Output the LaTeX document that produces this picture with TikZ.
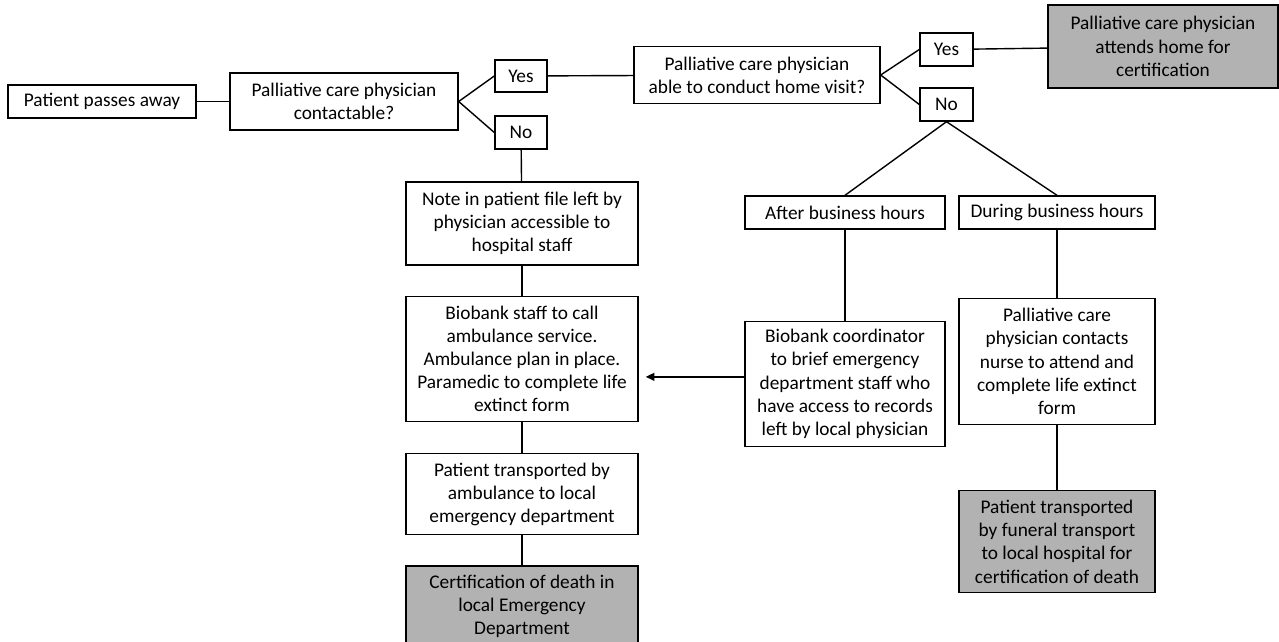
\documentclass[tikz,border=0pt]{standalone}
\usepackage{fontspec}
\setmainfont{Carlito}
\usetikzlibrary{positioning,arrows.meta}
\begin{document}
\begin{tikzpicture}[x=0.02cm,y=-0.02cm,
  box/.style={draw,line width=0.8pt,align=center,inner sep=1pt,
    font=\fontsize{11}{13.2}\selectfont},
  shaded/.style={box,fill=black!30}]
  \useasboundingbox (0,0) rectangle (1279,642);
  \node (1) [box,minimum width=3.76cm,minimum height=0.66cm] at (102,101.5) {Patient passes away};
  \node (2) [box,minimum width=4.56cm,minimum height=1.14cm] at (344,101.5) {Palliative care physician\\contactable?};
  \node (3) [box,minimum width=1.04cm,minimum height=0.64cm] at (521,76) {Yes};
  \node (4) [box,minimum width=1.04cm,minimum height=0.66cm] at (521,132.5) {No};
  \node (5) [box,minimum width=4.92cm,minimum height=1.14cm] at (757,75) {Palliative care physician\\able to conduct home visit?};
  \node (6) [box,minimum width=1.06cm,minimum height=0.66cm] at (946.5,49.5) {Yes};
  \node (7) [box,minimum width=1.06cm,minimum height=0.66cm] at (946.5,104.5) {No};
  \node (8) [shaded,minimum width=4.6cm,minimum height=1.66cm] at (1163,46.5) {Palliative care physician\\attends home for\\certification};
  \node (9) [box,minimum width=4.64cm,minimum height=1.66cm] at (522,223.5) {Note in patient file left by\\physician accessible to\\hospital staff};
  \node (10) [box,minimum width=4.0cm,minimum height=0.66cm] at (845,212.5) {After business hours};
  \node (11) [box,minimum width=3.92cm,minimum height=0.66cm] at (1057,212.5) {During business hours};
  \node (12) [box,minimum width=4.64cm,minimum height=2.5cm,below=0.6cm of 9] {Biobank staff to call\\ambulance service.\\Ambulance plan in place.\\Paramedic to complete life\\extinct form};
  \node (13) [box,minimum width=4.0cm,minimum height=2.5cm,below=1.82cm of 10] {Biobank coordinator\\to brief emergency\\department staff who\\have access to records\\left by local physician};
  \node (14) [box,minimum width=3.92cm,minimum height=2.52cm,below=1.36cm of 11] {Palliative care\\physician contacts\\nurse to attend and\\complete life extinct\\form};
  \node (15) [box,minimum width=4.64cm,minimum height=1.62cm,below=0.62cm of 12] {Patient transported by\\ambulance to local\\emergency department};
  \node (16) [shaded,minimum width=4.64cm,minimum height=1.6cm,below=0.6cm of 15] {Certification of death in\\local Emergency\\Department};
  \node (17) [shaded,minimum width=3.92cm,minimum height=2.04cm,below=1.3cm of 14] {Patient transported\\by funeral transport\\to local hospital for\\certification of death};
  \path[-,line width=0.8pt]
            (1) edge (2)
            (2.east) edge (3.west)
            (2.east) edge (4.west)
            (3) edge (5)
            (5.east) edge (6.west)
            (5.east) edge (7.west)
            (6) edge (8)
            (7.south) edge (10.north)
            (7.south) edge (11.north)
            (4) edge (9)
            (9) edge (12)
            (12) edge (15)
            (15) edge (16)
            (10) edge (13)
            (11) edge (14)
            (14) edge (17)
            ([yshift=4pt]13.west) edge[-{Triangle[length=5pt,width=4.5pt]},shorten >=4pt] ([yshift=4pt]13.west -| 12.east)
            ;
\end{tikzpicture}
\end{document}
